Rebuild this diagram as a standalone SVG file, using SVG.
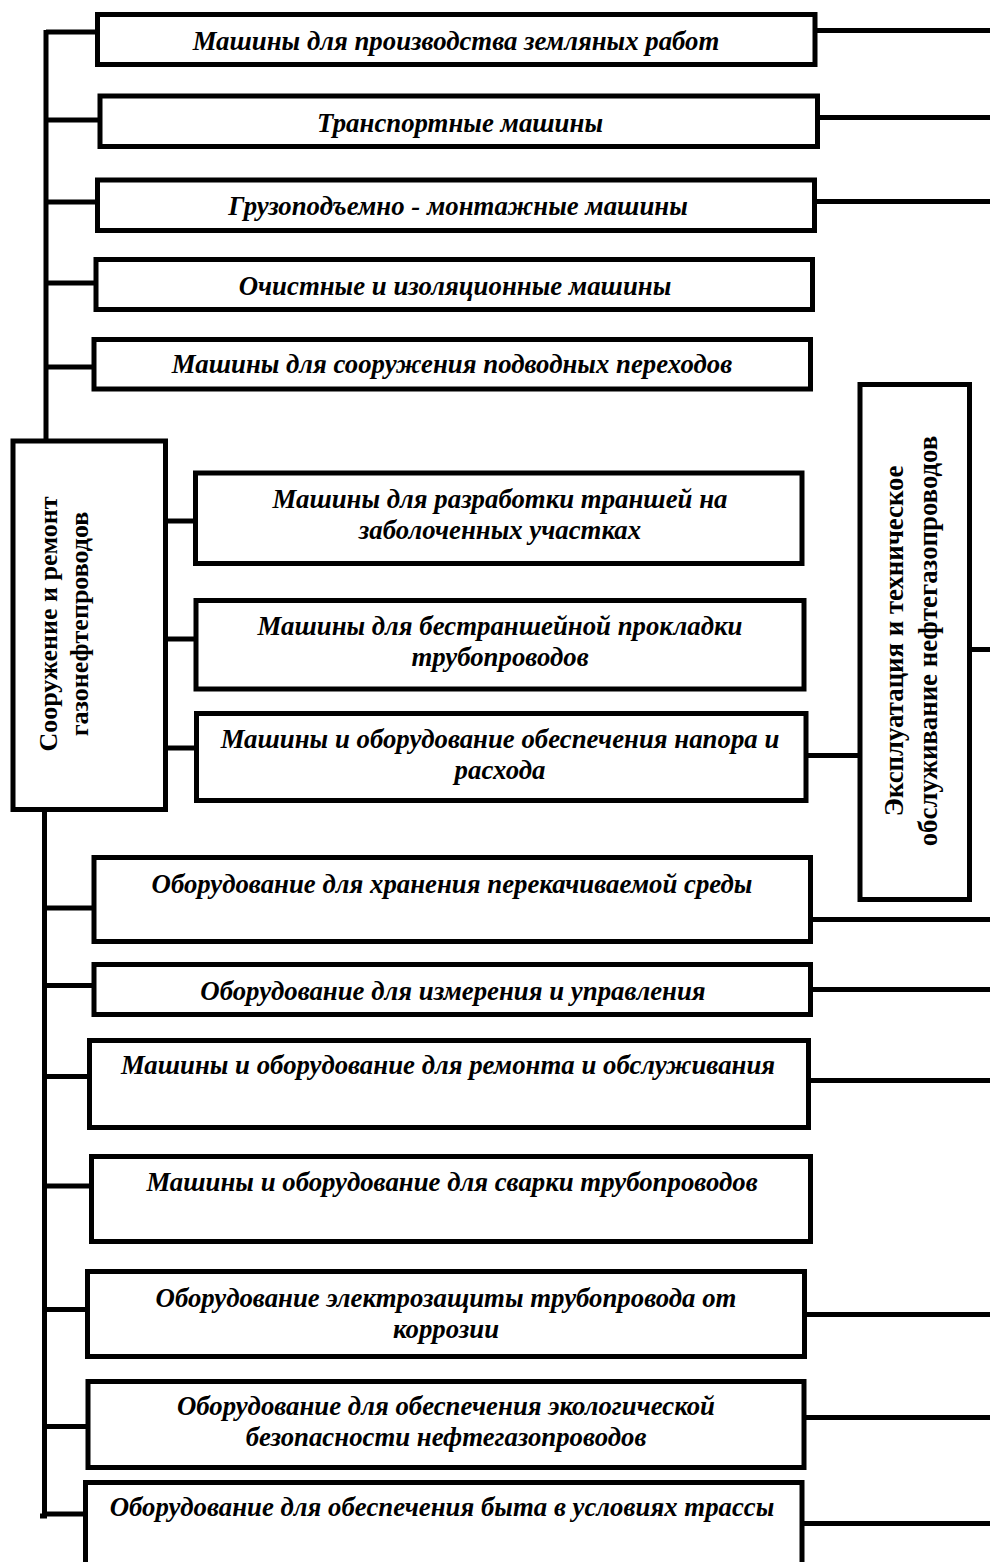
<svg xmlns="http://www.w3.org/2000/svg" width="990" height="1562" viewBox="0 0 990 1562">
<style>
.box{fill:#fff;stroke:#000;stroke-width:5}
.ln{fill:none;stroke:#000;stroke-width:5}
.t{font-family:"Liberation Serif","Times New Roman",serif;font-weight:bold;font-style:italic;font-size:26.8px;fill:#000;text-anchor:middle}
.v{font-family:"Liberation Serif","Times New Roman",serif;font-weight:bold;font-size:26px;fill:#000;text-anchor:middle}
.v2{font-size:26.8px}
</style>
<rect width="990" height="1562" fill="#fff"/>
<g id="connectors">
<polyline class="ln" points="46,30 46,443"/>
<polyline class="ln" points="44.5,810 44.5,1516 40,1516"/>
<line class="ln" x1="46" y1="32" x2="97.5" y2="32"/>
<line class="ln" x1="46" y1="120" x2="100" y2="120"/>
<line class="ln" x1="46" y1="202" x2="97.5" y2="202"/>
<line class="ln" x1="46" y1="283" x2="96" y2="283"/>
<line class="ln" x1="46" y1="367" x2="94" y2="367"/>
<line class="ln" x1="165.5" y1="521" x2="195.5" y2="521"/>
<line class="ln" x1="165.5" y1="639" x2="196" y2="639"/>
<line class="ln" x1="165.5" y1="748" x2="196.5" y2="748"/>
<line class="ln" x1="44.5" y1="908" x2="94" y2="908"/>
<line class="ln" x1="44.5" y1="985.5" x2="94" y2="985.5"/>
<line class="ln" x1="44.5" y1="1076.5" x2="89.5" y2="1076.5"/>
<line class="ln" x1="44.5" y1="1186" x2="91.5" y2="1186"/>
<line class="ln" x1="44.5" y1="1309.5" x2="87.5" y2="1309.5"/>
<line class="ln" x1="44.5" y1="1426.5" x2="88" y2="1426.5"/>
<line class="ln" x1="44.5" y1="1514" x2="85.5" y2="1514"/>
<line class="ln" x1="815" y1="30.5" x2="990" y2="30.5"/>
<line class="ln" x1="817.5" y1="117.5" x2="990" y2="117.5"/>
<line class="ln" x1="814.5" y1="201.5" x2="990" y2="201.5"/>
<line class="ln" x1="806" y1="755.5" x2="860" y2="755.5"/>
<line class="ln" x1="969.5" y1="649.5" x2="990" y2="649.5"/>
<line class="ln" x1="810.5" y1="919.5" x2="990" y2="919.5"/>
<line class="ln" x1="810.5" y1="989.5" x2="990" y2="989.5"/>
<line class="ln" x1="808.5" y1="1080.5" x2="990" y2="1080.5"/>
<line class="ln" x1="804.5" y1="1314.5" x2="990" y2="1314.5"/>
<line class="ln" x1="804" y1="1417.5" x2="990" y2="1417.5"/>
<line class="ln" x1="802" y1="1523.5" x2="990" y2="1523.5"/>
</g>
<g id="root-left">
<rect class="box" x="13" y="441" width="152.5" height="368.5"/>
<text class="v" transform="translate(0,624) rotate(-90)"><tspan x="0" y="57">Сооружение и ремонт</tspan><tspan x="0" y="88">газонефтепроводов</tspan></text>
</g>
<g id="root-right">
<rect class="box" x="860" y="384.5" width="109.5" height="515"/>
<text class="v v2" transform="translate(0,641) rotate(-90)"><tspan x="0" y="903">Эксплуатация и техническое</tspan><tspan x="0" y="937">обслуживание нефтегазопроводов</tspan></text>
</g>
<g id="n1"><rect class="box" x="97.5" y="14.5" width="717.5" height="50"/><text class="t" x="456" y="50">Машины для производства земляных работ</text></g>
<g id="n2"><rect class="box" x="100" y="96" width="717.5" height="50.5"/><text class="t" x="460" y="132">Транспортные машины</text></g>
<g id="n3"><rect class="box" x="97.5" y="180" width="717" height="50.5"/><text class="t" x="458" y="215">Грузоподъемно - монтажные машины</text></g>
<g id="n4"><rect class="box" x="96" y="259.5" width="716.5" height="50"/><text class="t" x="455" y="295">Очистные и изоляционные машины</text></g>
<g id="n5"><rect class="box" x="94" y="339.5" width="716.5" height="49.5"/><text class="t" x="452" y="373">Машины для сооружения подводных переходов</text></g>
<g id="n6"><rect class="box" x="195.5" y="473" width="606.5" height="90.5"/><text class="t" x="500" y="508">Машины для разработки траншей на</text><text class="t" x="500" y="539">заболоченных участках</text></g>
<g id="n7"><rect class="box" x="196" y="600.5" width="608" height="88.5"/><text class="t" x="500" y="635">Машины для бестраншейной прокладки</text><text class="t" x="500" y="666">трубопроводов</text></g>
<g id="n8"><rect class="box" x="196.5" y="713.5" width="609.5" height="87"/><text class="t" x="500" y="748">Машины и оборудование обеспечения напора и</text><text class="t" x="500" y="779">расхода</text></g>
<g id="n9"><rect class="box" x="94" y="857.5" width="716.5" height="84"/><text class="t" x="452" y="893">Оборудование для хранения перекачиваемой среды</text></g>
<g id="n10"><rect class="box" x="94" y="964.5" width="716.5" height="50"/><text class="t" x="453" y="1000">Оборудование для измерения и управления</text></g>
<g id="n11"><rect class="box" x="89.5" y="1040.5" width="719" height="87"/><text class="t" x="448" y="1074">Машины и оборудование для ремонта и обслуживания</text></g>
<g id="n12"><rect class="box" x="91.5" y="1156.5" width="719" height="85"/><text class="t" x="452" y="1191">Машины и оборудование для сварки трубопроводов</text></g>
<g id="n13"><rect class="box" x="87.5" y="1271.5" width="717" height="85"/><text class="t" x="446" y="1307">Оборудование электрозащиты трубопровода от</text><text class="t" x="446" y="1338">коррозии</text></g>
<g id="n14"><rect class="box" x="88" y="1381.5" width="716" height="86"/><text class="t" x="446" y="1415">Оборудование для обеспечения экологической</text><text class="t" x="446" y="1446">безопасности нефтегазопроводов</text></g>
<g id="n15"><rect class="box" x="85.5" y="1482.5" width="716.5" height="95"/><text class="t" x="442" y="1516">Оборудование для обеспечения быта в условиях трассы</text></g>
</svg>
